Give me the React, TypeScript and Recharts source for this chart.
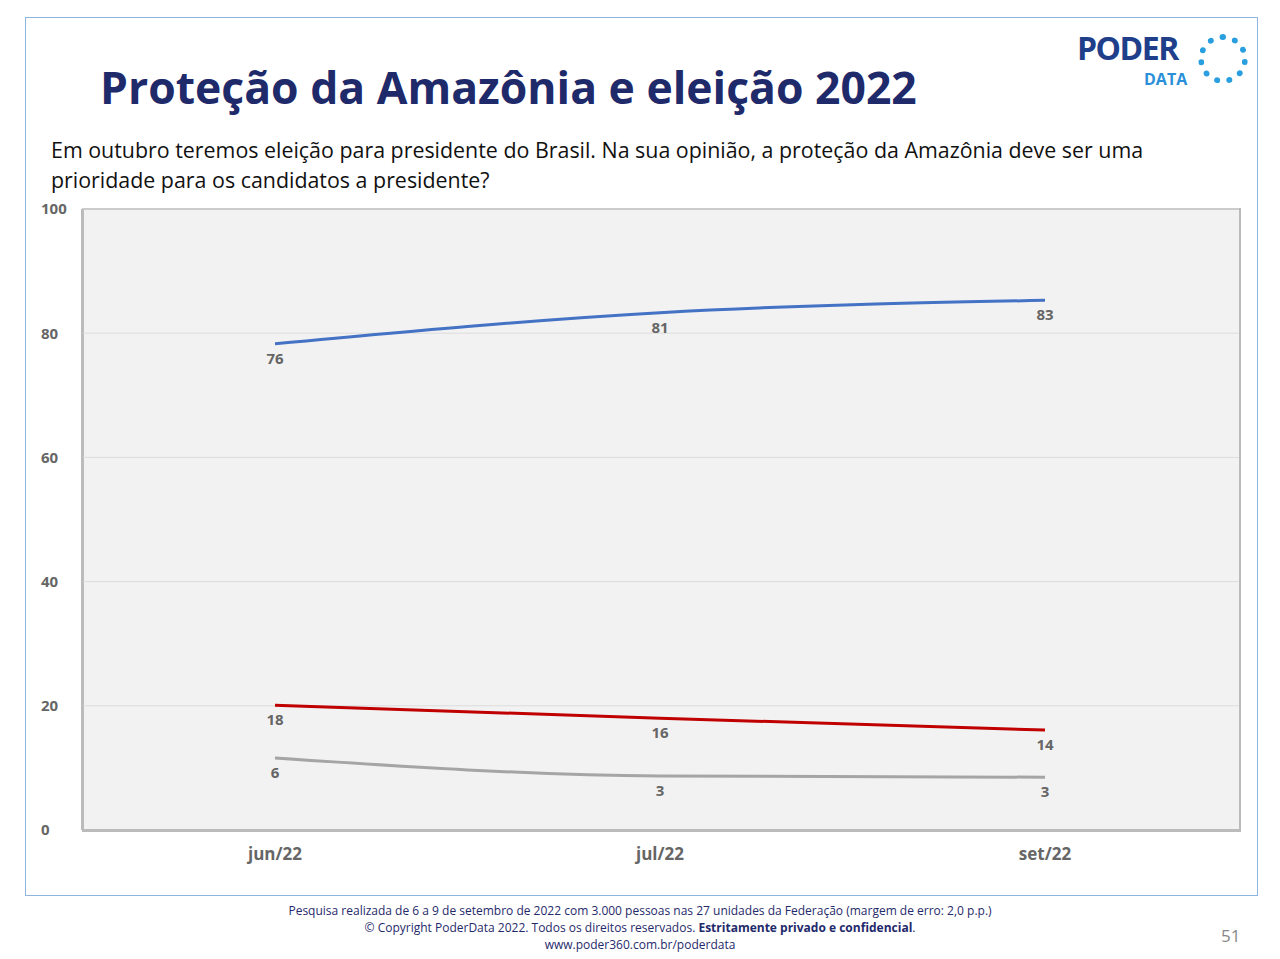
import { LineChart, Line, XAxis, YAxis, CartesianGrid, LabelList } from "recharts";

const months = ["jun/22", "jul/22", "set/22"];
const simValues = [78.3, 83.3, 85.3];
const simLabels = [76, 81, 83];
const naoValues = [20.1, 18.0, 16.1];
const naoLabels = [18, 16, 14];
const nsValues = [11.6, 8.7, 8.5];
const nsLabels = [6, 3, 3];
const yTicks = [0, 20, 40, 60, 80, 100];

const data = months.map((m, i) => ({
  month: m,
  sim: simValues[i],
  simLabel: simLabels[i],
  nao: naoValues[i],
  naoLabel: naoLabels[i],
  ns: nsValues[i],
  nsLabel: nsLabels[i],
}));

const font = "'Open Sans', 'Noto Sans', sans-serif";

function PointLabel(props: any) {
  const { x, y, value } = props;
  return (
    <text x={x} y={y + 20} textAnchor="middle" fill="#666" fontSize={15} fontWeight="bold" fontFamily={font}>
      {value}
    </text>
  );
}

export default function App() {
  return (
    <div style={{ position: "absolute", left: 0, top: 0, width: 1280, height: 959, background: "#fff", fontFamily: font }}>
      <div style={{ position: "absolute", left: 25, top: 17, width: 1231, height: 877, border: "1.5px solid #8fb4dd" }} />
      <div style={{ position: "absolute", left: 100, top: 56, fontSize: 44.5, fontWeight: "bold", color: "#1f2a6b" }}>
        Proteção da Amazônia e eleição 2022
      </div>
      <div style={{ position: "absolute", left: 1077, top: 28, fontSize: 32, lineHeight: "40px", fontWeight: "bold", color: "#1f3f8a", letterSpacing: -1.5 }}>
        PODER
      </div>
      <div style={{ position: "absolute", left: 1144, top: 70, fontSize: 16, lineHeight: "18px", fontWeight: "bold", color: "#2a8fd9" }}>DATA</div>
      <div style={{ position: "absolute", left: 1198, top: 34, width: 50, height: 50, borderRadius: 25, border: "6px dotted #2a9fe0", boxSizing: "border-box" }} />
      <div style={{ position: "absolute", left: 51, top: 135, width: 1150, fontSize: 21.4, lineHeight: "30px", color: "#111" }}>
        Em outubro teremos eleição para presidente do Brasil. Na sua opinião, a proteção da Amazônia deve ser uma prioridade para os candidatos a presidente?
      </div>
      <div style={{ position: "absolute", left: 82, top: 208, width: 1155, height: 620, background: "#f2f2f2", border: "2px solid #bbb" }} />
      <div style={{ position: "absolute", left: 0, top: 0 }}>
        <LineChart width={1280} height={959} data={data} margin={{ top: 209, right: 41, bottom: 99, left: 22 }}>
          <CartesianGrid stroke="#dcdcdc" vertical={false} />
          <XAxis
            dataKey="month"
            padding={{ left: 193, right: 194 }}
            tickLine={false}
            axisLine={{ stroke: "#bbb", strokeWidth: 2 }}
            tick={{ fill: "#666", fontSize: 17, fontWeight: "bold", fontFamily: font }}
            tickMargin={12}
            height={30}
          />
          <YAxis
            domain={[0, 100]}
            ticks={yTicks}
            width={60}
            tickLine={false}
            axisLine={{ stroke: "#bbb", strokeWidth: 2 }}
            tick={{ fill: "#666", fontSize: 15, fontWeight: "bold", fontFamily: font, textAnchor: "start", dx: -33 }}
          />
          <Line type="monotone" dataKey="sim" stroke="#4472c4" strokeWidth={3} dot={false} isAnimationActive={false}>
            <LabelList dataKey="simLabel" content={PointLabel} />
          </Line>
          <Line type="monotone" dataKey="nao" stroke="#c00000" strokeWidth={3} dot={false} isAnimationActive={false}>
            <LabelList dataKey="naoLabel" content={PointLabel} />
          </Line>
          <Line type="monotone" dataKey="ns" stroke="#a5a5a5" strokeWidth={3} dot={false} isAnimationActive={false}>
            <LabelList dataKey="nsLabel" content={PointLabel} />
          </Line>
        </LineChart>
      </div>
      <div style={{ position: "absolute", left: 0, width: 1280, top: 902, textAlign: "center", fontSize: 12, lineHeight: "17px", color: "#1f2a6b" }}>
        Pesquisa realizada de 6 a 9 de setembro de 2022 com 3.000 pessoas nas 27 unidades da Federação (margem de erro: 2,0 p.p.)
        <br />© Copyright PoderData 2022. Todos os direitos reservados. <b>Estritamente privado e confidencial</b>.
        <br />www.poder360.com.br/poderdata
      </div>
      <div style={{ position: "absolute", left: 1221, top: 924, fontSize: 17, color: "#888" }}>51</div>
    </div>
  );
}
